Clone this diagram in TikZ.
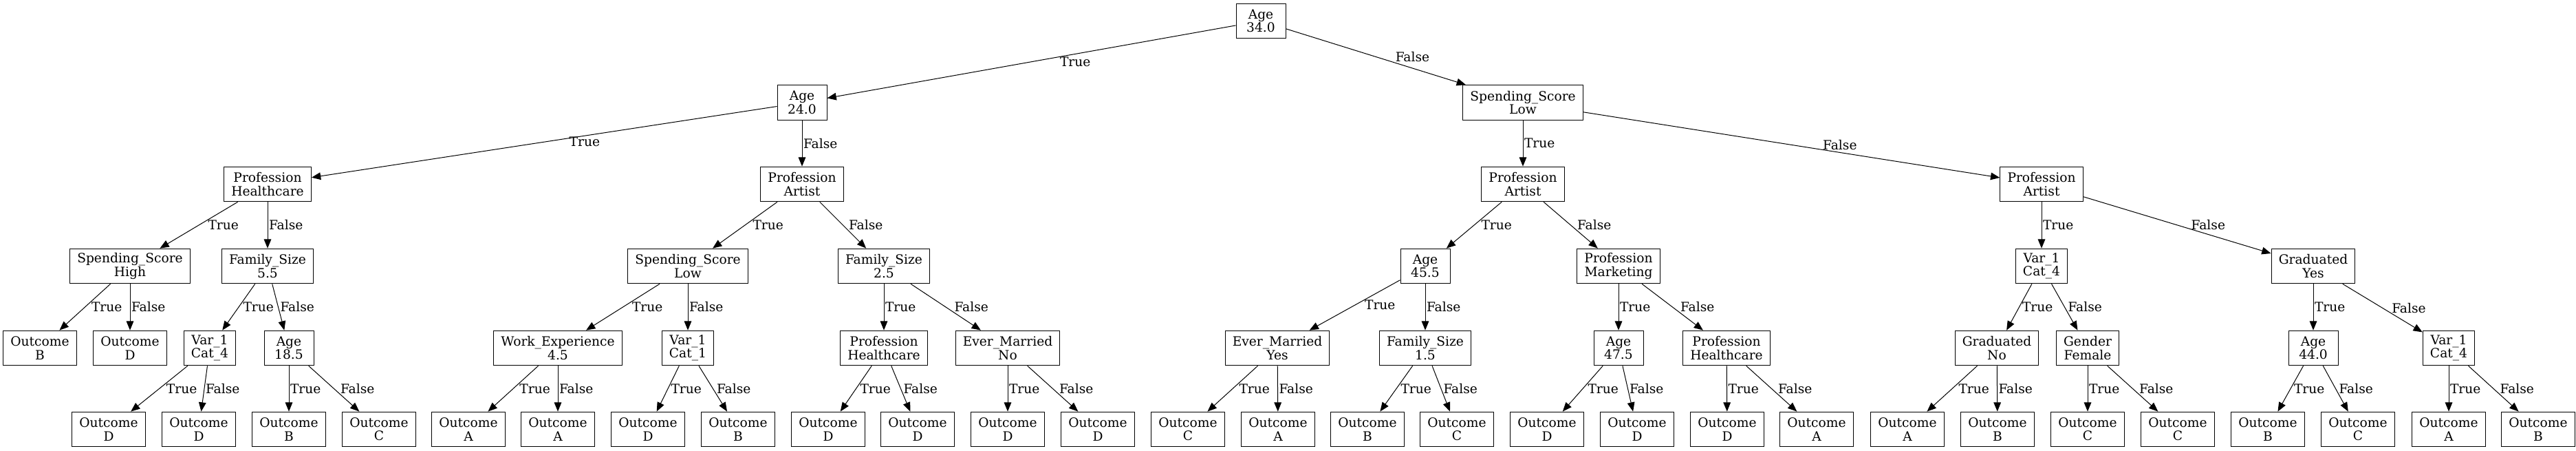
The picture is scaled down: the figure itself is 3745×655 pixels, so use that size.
\documentclass[tikz,border=0pt]{standalone}
\usepackage{fontspec}
\setmainfont{DejaVu Serif}
\usetikzlibrary{arrows.meta}

\tikzset{
  cond/.style={draw, line width=0.75pt, align=center, inner xsep=8pt, inner ysep=0pt,
    minimum width=54pt, minimum height=38pt, font=\fontsize{14}{14.5}\selectfont},
  leaf/.style={cond},
  branch/.style={line width=0.75pt, -{Triangle[length=10pt,width=8pt]}},
  lbl/.style={pos=0.5, anchor=west, inner sep=0pt, xshift=#1*0.75pt, font=\fontsize{14}{14.5}\selectfont},
  lbl/.default=1.5
}

\begin{document}
\begin{tikzpicture}[x=0.75pt, y=-0.75pt]
\useasboundingbox (0,0) rectangle (3745,655);

%root and first split
\node[cond] (age34) at (1833,30.5) {Age\\34.0};
\node[cond] (age24) at (1166,149) {Age\\24.0};
\node[cond] (spendlow) at (2214,149) {Spending\_Score\\Low};

%second level
\node[cond] (profhc) at (389,267.5) {Profession\\Healthcare};
\node[cond] (profart1) at (1166,267.5) {Profession\\Artist};
\node[cond] (profart2) at (2214,267.5) {Profession\\Artist};
\node[cond] (profart3) at (2968,267.5) {Profession\\Artist};

%third level
\node[cond] (spendhigh) at (189,386.5) {Spending\_Score\\High};
\node[cond] (fam55) at (389,386.5) {Family\_Size\\5.5};
\node[cond] (spendlow2) at (1000,386.5) {Spending\_Score\\Low};
\node[cond] (fam25) at (1285,386.5) {Family\_Size\\2.5};
\node[cond] (age455) at (2072,386.5) {Age\\45.5};
\node[cond] (profmkt) at (2353,386.5) {Profession\\Marketing};
\node[cond] (var4a) at (2968,386.5) {Var\_1\\Cat\_4};
\node[cond] (gradyes) at (3363,386.5) {Graduated\\Yes};

%fourth level
\node[leaf] (outB) at (58,505.5) {Outcome\\B};
\node[leaf] (outD) at (189,505.5) {Outcome\\D};
\node[cond] (var4b) at (305,505.5) {Var\_1\\Cat\_4};
\node[cond] (age185) at (420,505.5) {Age\\18.5};
\node[cond] (workexp) at (811,505.5) {Work\_Experience\\4.5};
\node[cond] (var1) at (1000,505.5) {Var\_1\\Cat\_1};
\node[cond] (profhc2) at (1285,505.5) {Profession\\Healthcare};
\node[cond] (marriedno) at (1465,505.5) {Ever\_Married\\No};
\node[cond] (marriedyes) at (1857,505.5) {Ever\_Married\\Yes};
\node[cond] (fam15) at (2072,505.5) {Family\_Size\\1.5};
\node[cond] (age475) at (2353,505.5) {Age\\47.5};
\node[cond] (profhc3) at (2510,505.5) {Profession\\Healthcare};
\node[cond] (gradno) at (2903,505.5) {Graduated\\No};
\node[cond] (female) at (3035,505.5) {Gender\\Female};
\node[cond] (age44) at (3363,505.5) {Age\\44.0};
\node[cond] (var4c) at (3560,505.5) {Var\_1\\Cat\_4};

%outcomes
\node[leaf] (var4bT) at (158,623.5) {Outcome\\D};
\node[leaf] (var4bF) at (289,623.5) {Outcome\\D};
\node[leaf] (age185T) at (420,623.5) {Outcome\\B};
\node[leaf] (age185F) at (551,623.5) {Outcome\\C};
\node[leaf] (workexpT) at (681,623.5) {Outcome\\A};
\node[leaf] (workexpF) at (811,623.5) {Outcome\\A};
\node[leaf] (var1T) at (942,623.5) {Outcome\\D};
\node[leaf] (var1F) at (1073,623.5) {Outcome\\B};
\node[leaf] (profhc2T) at (1204,623.5) {Outcome\\D};
\node[leaf] (profhc2F) at (1334,623.5) {Outcome\\D};
\node[leaf] (marriednoT) at (1465,623.5) {Outcome\\D};
\node[leaf] (marriednoF) at (1596,623.5) {Outcome\\D};
\node[leaf] (marriedyesT) at (1727,623.5) {Outcome\\C};
\node[leaf] (marriedyesF) at (1858,623.5) {Outcome\\A};
\node[leaf] (fam15T) at (1988,623.5) {Outcome\\B};
\node[leaf] (fam15F) at (2118,623.5) {Outcome\\C};
\node[leaf] (age475T) at (2249,623.5) {Outcome\\D};
\node[leaf] (age475F) at (2380,623.5) {Outcome\\D};
\node[leaf] (profhc3T) at (2511,623.5) {Outcome\\D};
\node[leaf] (profhc3F) at (2641,623.5) {Outcome\\A};
\node[leaf] (gradnoT) at (2773,623.5) {Outcome\\A};
\node[leaf] (gradnoF) at (2904,623.5) {Outcome\\B};
\node[leaf] (femaleT) at (3035,623.5) {Outcome\\C};
\node[leaf] (femaleF) at (3166,623.5) {Outcome\\C};
\node[leaf] (age44T) at (3297,623.5) {Outcome\\B};
\node[leaf] (age44F) at (3428,623.5) {Outcome\\C};
\node[leaf] (var4cT) at (3560,623.5) {Outcome\\A};
\node[leaf] (var4cF) at (3690,623.5) {Outcome\\B};

%branches, top part
\draw[branch] (age34) -- node[lbl=41] {True} (age24);
\draw[branch] (age34) -- node[lbl=28] {False} (spendlow);
\draw[branch] (age24) -- node[lbl=36] {True} (profhc);
\draw[branch] (age24) -- node[lbl] {False} (profart1);
\draw[branch] (spendlow) -- node[lbl] {True} (profart2);
\draw[branch] (spendlow) -- node[lbl=45] {False} (profart3);
\draw[branch] (profhc) -- node[lbl=13] {True} (spendhigh);
\draw[branch] (profhc) -- node[lbl] {False} (fam55);
\draw[branch] (profart1) -- node[lbl=11] {True} (spendlow2);
\draw[branch] (profart1) -- node[lbl=8] {False} (fam25);
\draw[branch] (profart2) -- node[lbl=10] {True} (age455);
\draw[branch] (profart2) -- node[lbl=9] {False} (profmkt);
\draw[branch] (profart3) -- node[lbl] {True} (var4a);
\draw[branch] (profart3) -- node[lbl=20] {False} (gradyes);

%third to fourth level
\draw[branch] (spendhigh) -- node[lbl=9] {True} (outB);
\draw[branch] (spendhigh) -- node[lbl] {False} (outD);
\draw[branch] (fam55) -- node[lbl=6] {True} (var4b);
\draw[branch] (fam55) -- node[lbl=2.5] {False} (age185);
\draw[branch] (spendlow2) -- node[lbl=13] {True} (workexp);
\draw[branch] (spendlow2) -- node[lbl] {False} (var1);
\draw[branch] (fam25) -- node[lbl] {True} (profhc2);
\draw[branch] (fam25) -- node[lbl=12] {False} (marriedno);
\draw[branch] (age455) -- node[lbl=14] {True} (marriedyes);
\draw[branch] (age455) -- node[lbl] {False} (fam15);
\draw[branch] (profmkt) -- node[lbl] {True} (age475);
\draw[branch] (profmkt) -- node[lbl=11] {False} (profhc3);
\draw[branch] (var4a) -- node[lbl=4] {True} (gradno);
\draw[branch] (var4a) -- node[lbl=4.5] {False} (female);
\draw[branch] (gradyes) -- node[lbl] {True} (age44);
\draw[branch] (gradyes) -- node[lbl=13] {False} (var4c);

%down to the outcomes
\draw[branch] (var4b) -- node[lbl=10] {True} (var4bT);
\draw[branch] (var4b) -- node[lbl=1.5] {False} (var4bF);
\draw[branch] (age185) -- node[lbl] {True} (age185T);
\draw[branch] (age185) -- node[lbl=9] {False} (age185F);
\draw[branch] (workexp) -- node[lbl=9] {True} (workexpT);
\draw[branch] (workexp) -- node[lbl] {False} (workexpF);
\draw[branch] (var1) -- node[lbl=4] {True} (var1T);
\draw[branch] (var1) -- node[lbl=5] {False} (var1F);
\draw[branch] (profhc2) -- node[lbl=5.5] {True} (profhc2T);
\draw[branch] (profhc2) -- node[lbl=3.5] {False} (profhc2F);
\draw[branch] (marriedno) -- node[lbl] {True} (marriednoT);
\draw[branch] (marriedno) -- node[lbl=9] {False} (marriednoF);
\draw[branch] (marriedyes) -- node[lbl=9] {True} (marriedyesT);
\draw[branch] (marriedyes) -- node[lbl] {False} (marriedyesF);
\draw[branch] (fam15) -- node[lbl=6] {True} (fam15T);
\draw[branch] (fam15) -- node[lbl=3] {False} (fam15F);
\draw[branch] (age475) -- node[lbl=7] {True} (age475T);
\draw[branch] (age475) -- node[lbl=2] {False} (age475F);
\draw[branch] (profhc3) -- node[lbl] {True} (profhc3T);
\draw[branch] (profhc3) -- node[lbl=9] {False} (profhc3F);
\draw[branch] (gradno) -- node[lbl=9] {True} (gradnoT);
\draw[branch] (gradno) -- node[lbl] {False} (gradnoF);
\draw[branch] (female) -- node[lbl] {True} (femaleT);
\draw[branch] (female) -- node[lbl=9] {False} (femaleF);
\draw[branch] (age44) -- node[lbl=4.5] {True} (age44T);
\draw[branch] (age44) -- node[lbl=4.5] {False} (age44F);
\draw[branch] (var4c) -- node[lbl] {True} (var4cT);
\draw[branch] (var4c) -- node[lbl=9] {False} (var4cF);
\end{tikzpicture}
\end{document}
